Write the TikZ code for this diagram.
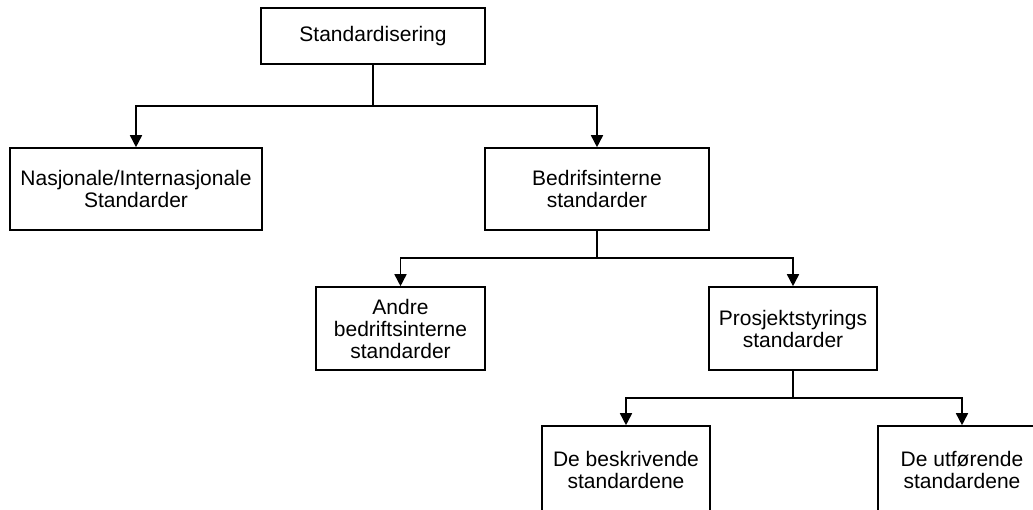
\documentclass[tikz,border=0pt]{standalone}
\usepackage{fontspec}
\setmainfont{Liberation Sans}
\usetikzlibrary{arrows.meta}

\begin{document}
\begin{tikzpicture}[x=1pt,y=-1pt,line width=1.6pt,
	box/.style={draw,align=center,inner sep=0pt,font=\fontsize{21}{22}\selectfont},
	arr/.style={-{Triangle[length=12pt,width=12pt]}}]
	\clip (0,0) rectangle (1033,509);
	\node[box,minimum width=224,minimum height=56] (std) at (373,36) {Standardisering};
	\node[box,minimum width=252,minimum height=82] (nas) at (136,189) {Nasjonale/Internasjonale\\Standarder};
	\node[box,minimum width=224,minimum height=82] (bed) at (597,189) {Bedrifsinterne\\standarder};
	\node[box,minimum width=169,minimum height=83] (andre) at (400.5,328.5) {Andre\\bedriftsinterne\\standarder};
	\node[box,minimum width=168,minimum height=83] (pro) at (793,328.5) {Prosjektstyrings\\standarder};
	\node[box,minimum width=168,minimum height=88] (besk) at (626,470) {De beskrivende\\standardene};
	\node[box,minimum width=168,minimum height=88] (utf) at (962,470) {De utførende\\standardene};
	% branch points
	\coordinate (j1) at (373,106);
	\coordinate (j2) at (597,258);
	\coordinate (j3) at (793,398);
	\draw (std.south) -- (j1);
	\draw[arr] (j1) -| (nas.north);
	\draw[arr] (j1) -| (bed.north);
	\draw (bed.south) -- (j2);
	\draw[arr] (j2) -| (andre.north);
	\draw[arr] (j2) -| (pro.north);
	\draw (pro.south) -- (j3);
	\draw[arr] (j3) -| (besk.north);
	\draw[arr] (j3) -| (utf.north);
\end{tikzpicture}
\end{document}
